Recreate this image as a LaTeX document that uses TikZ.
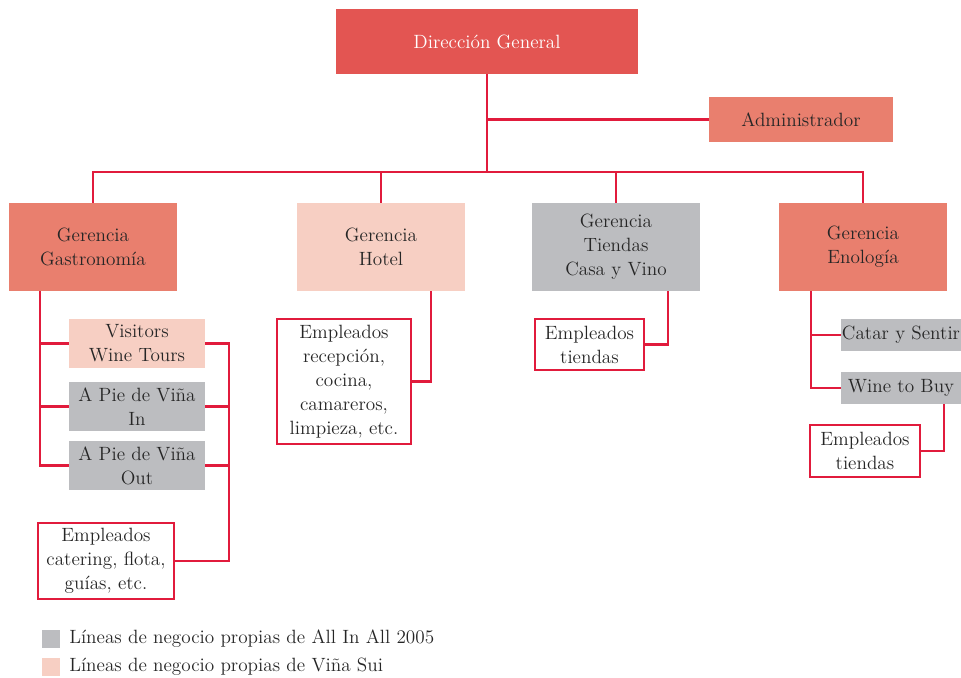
\documentclass[tikz,border=0pt]{standalone}
\definecolor{dgred}{HTML}{E35552}
\definecolor{salmon}{HTML}{E97F6E}
\definecolor{lpink}{HTML}{F7CFC3}
\definecolor{lgray}{HTML}{BCBDC0}
\definecolor{lred}{HTML}{E11B3C}
\definecolor{txt}{HTML}{262626}
\begin{document}
\begin{tikzpicture}[x=0.75pt,y=-0.75pt,
  box/.style={inner sep=0pt, align=center, font=\fontsize{14.4}{18}\selectfont, text=txt, draw=none},
  redbox/.style={box, fill=dgred, text=white},
  salbox/.style={box, fill=salmon},
  pinkbox/.style={box, fill=lpink},
  graybox/.style={box, fill=lgray},
  empbox/.style={box, fill=white, draw=lred, line width=0.9pt},
  gsize/.style={minimum width=126pt, minimum height=66pt},
  ssize/.style={minimum width=102pt, minimum height=36.75pt},
  esize/.style={minimum width=90pt, minimum height=24pt},
  conn/.style={draw=lred, line width=2.1pt},
  legtext/.style={anchor=west, inner sep=0pt, font=\fontsize{14.4}{18}\selectfont, text=txt}]
\useasboundingbox (0,0) rectangle (961,678);

% top
\node[redbox, minimum width=226.5pt, minimum height=48.75pt] (dg) at (487,41.5) {Dirección General};
\node[salbox, minimum width=138pt, minimum height=33.75pt] (adm) at (801,119.5) {Administrador};

% gerencias
\node[salbox, gsize] (gg) at (93,247) {Gerencia\\Gastronomía};
\node[pinkbox, gsize] (gh) at (381,247) {Gerencia\\Hotel};
\node[graybox, gsize] (gt) at (616,247) {Gerencia\\Tiendas\\Casa y Vino};
\node[salbox, gsize] (ge) at (863,247) {Gerencia\\Enología};

% gastronomia column
\node[pinkbox, ssize] (vw) at (137,343.5) {Visitors\\Wine Tours};
\node[graybox, ssize] (vi) at (137,406.5) {A Pie de Viña\\In};
\node[graybox, ssize] (vo) at (137,465.5) {A Pie de Viña\\Out};
\node[empbox, minimum width=102pt, minimum height=57pt] (ec) at (106,561) {Empleados\\catering, flota,\\guías, etc.};

% hotel
\node[empbox, minimum width=100.5pt, minimum height=93.75pt] (eh) at (344,381.5) {Empleados\\recepción,\\cocina,\\camareros,\\limpieza, etc.};

% tiendas
\node[empbox, minimum width=81.75pt, minimum height=38.25pt] (et) at (589.5,344.5) {Empleados\\tiendas};

% enologia
\node[graybox, esize] (cs) at (901,335) {Catar y Sentir};
\node[graybox, esize] (wb) at (901,388) {Wine to Buy};
\node[empbox, minimum width=82.5pt, minimum height=39pt] (en) at (865,451) {Empleados\\tiendas};

% connectors
\coordinate (bus) at (487,172);
\draw[conn] (dg.south) -- (bus);
\draw[conn] (dg.south |- adm.west) -- (adm.west);
\draw[conn] (gg.north) |- (bus);
\draw[conn] (ge.north) |- (bus);
\draw[conn] (gh.north) -- (gh.north |- bus);
\draw[conn] (gt.north) -- (gt.north |- bus);

\coordinate (lt) at (40,469);
\draw[conn] (gg.south -| lt) |- (vo.west);
\draw[conn] (lt |- vw.west) -- (vw.west);
\draw[conn] (lt |- vi.west) -- (vi.west);

\coordinate (rb) at (229,561);
\draw[conn] (vw.east) -| (rb) -- (ec.east);
\draw[conn] (vi.east) -- (vi.east -| rb);
\draw[conn] (vo.east) -- (vo.east -| rb);

\coordinate (hc) at (431,377);
\draw[conn] (gh.south -| hc) |- (eh.east);

\coordinate (tc) at (668,343);
\draw[conn] (gt.south -| tc) |- (et.east);

\coordinate (nt) at (811,389);
\draw[conn] (ge.south -| nt) |- (wb.west);
\draw[conn] (nt |- cs.west) -- (cs.west);

\coordinate (wc) at (944,450);
\draw[conn] (wb.south -| wc) |- (en.east);

% legend
\node[graybox, minimum size=13.5pt] (lg1) at (51,639) {};
\node[pinkbox, minimum size=13.5pt] (lg2) at (51,667) {};
\node[legtext] (lt1) at (69,639) {Líneas de negocio propias de All In All 2005};
\node[legtext] (lt2) at (69,667) {Líneas de negocio propias de Viña Sui};
\end{tikzpicture}
\end{document}
